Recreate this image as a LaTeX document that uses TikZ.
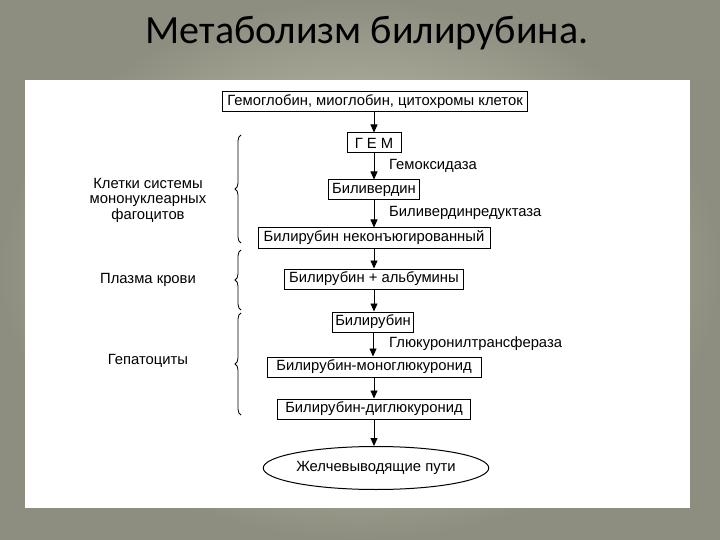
\documentclass[tikz,border=0pt]{standalone}
\usepackage{fontspec}
\setmainfont{Liberation Sans}
\newfontfamily\titlefont{Carlito}
\usetikzlibrary{arrows.meta,decorations.pathreplacing,shapes.geometric}
\definecolor{bgin}{HTML}{D8D7C6}
\definecolor{bgout}{HTML}{8E8E80}
\tikzset{
  txt/.style={font=\fontsize{14.8}{16}\selectfont},
  box/.style={txt,draw=black,line width=1pt,fill=white,minimum height=20pt,inner sep=1pt},
  lbl/.style={txt,anchor=west,inner sep=0pt},
  side/.style={align=center,inner sep=0pt,font=\fontsize{14.8}{15.5}\selectfont},
  arr/.style={line width=0.8pt,-{Triangle[length=8pt,width=7pt]}},
  brc/.style={line width=0.8pt,decorate,decoration={brace,amplitude=6pt}}
}
\begin{document}
\begin{tikzpicture}[x=1pt,y=-1pt]
\useasboundingbox (0,0) rectangle (720,540);
\shade[inner color=bgin,outer color=bgout] (0,0) rectangle (720,540);
\node[font=\titlefont\fontsize{40}{46}\selectfont,inner sep=0pt] (title) at (367,33) {Метаболизм билирубина.};
\fill[white] (25,80) rectangle (690,508);

\node[box,minimum width=305pt] (hb) at (375,102) {Гемоглобин, миоглобин, цитохромы клеток};
\node[box,minimum width=54pt] (gem) at (374,143) {Г Е М};
\node[box,minimum width=91pt] (bv) at (374,190) {Биливердин};
\node[box,minimum width=232pt] (bn) at (374,238) {Билирубин неконъюгированный};
\node[box,minimum width=179pt] (ba) at (374,279) {Билирубин + альбумины};
\node[box,minimum width=81pt] (b) at (373,322) {Билирубин};
\node[box,minimum width=214pt] (bm) at (374,367) {Билирубин-моноглюкуронид};
\node[box,minimum width=193pt] (bd) at (374,409) {Билирубин-диглюкуронид};
\node[txt,draw=black,line width=1pt,ellipse,minimum width=219pt,minimum height=43pt,inner sep=0pt] (ell) at (376,468) {Желчевыводящие пути};

\draw[arr] (hb.south -| gem) -- (gem.north);
\draw[arr] (gem.south) -- (bv.north);
\draw[arr] (bv.south) -- (bn.north);
\draw[arr] (bn.south) -- (ba.north);
\draw[arr] (ba.south) -- (ba.south |- b.north);
\draw[arr] (b.south) -- (b.south |- bm.north);
\draw[arr] (bm.south) -- (bd.north);
\draw[arr] (bd.south) -- (bd.south |- ell.north);

\node[lbl] (e1) at (389,166) {Гемоксидаза};
\node[lbl] (e2) at (389,213) {Биливердинредуктаза};
\node[lbl] (e3) at (389,344) {Глюкуронилтрансфераза};

\node[side] (s1) at (148,200) {Клетки системы\\мононуклеарных\\фагоцитов};
\node[side] (s2) at (148,280) {Плазма крови};
\node[side] (s3) at (148,361) {Гепатоциты};

\draw[brc] (241,243) -- (241,135);
\draw[brc] (241,310) -- (241,250);
\draw[brc] (241,415) -- (241,313);
\end{tikzpicture}
\end{document}
